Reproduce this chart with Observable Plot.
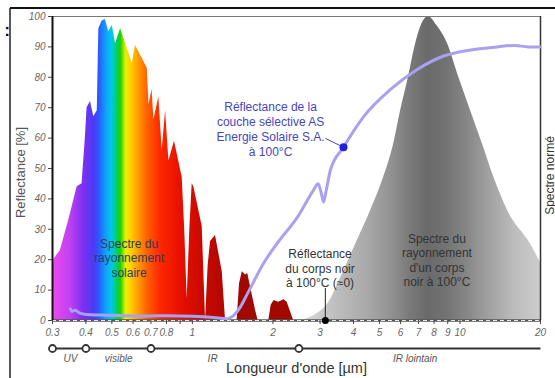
<!DOCTYPE html>
<html><head><meta charset="utf-8">
<script src="https://cdn.jsdelivr.net/npm/d3@7"></script>
<script src="https://cdn.jsdelivr.net/npm/@observablehq/plot@0.6"></script>
<style>
body{margin:0;background:#fff;}
#chart{position:relative;width:555px;height:378px;overflow:hidden;}
#chart g[aria-label="y-axis tick label"] text{font-style:italic;fill:#666;}
</style></head><body><div id="chart"></div>
<script>
// Solar spectrum (normalized, %)
const solarWl  = [0.300,0.303,0.321,0.345,0.371,0.387,0.398,0.404,0.416,0.428,0.441,0.447,0.460,0.473,0.487,0.502,0.516,0.539,0.579,0.596,0.613,0.678,0.688,0.707,0.718,0.749,0.771,0.794,0.817,0.857,0.916,0.936,0.956,0.978,0.998,1.012,1.088,1.12,1.145,1.169,1.22,1.293,1.33,1.47,1.50,1.536,1.58,1.61,1.65,1.72,1.76,1.93,1.97,2.02,2.10,2.20,2.26,2.39];
const solarVal = [0,20,23,33,44,45,60,70,72,67,69,96,98.5,99,95,97,91,96,88,84.5,90.5,83,71,76,66,73.5,56,69,52.5,59,47,30,7,30,45,44,31,0,18,26,28,16,0,0,12,16,15,15.5,11,3.5,0,0,5,6.6,6,6.8,6,0];
// Black body spectrum at 100°C (normalized, %)
const bbWl  = [2.54,3.18,3.58,4.07,4.63,5.18,5.65,6.0,6.42,6.83,7.2,7.63,8.2,8.99,9.9,10.96,12.15,13.4,15.1,18.4,20];
const bbVal = [0,5,14,25,36,47,58,69,80,91,97.5,100,97,91,80,69,58,47,36,25,19];
// Reflectance of the selective coating (%)
const reflWl  = [0.35,0.355,0.365,0.38,0.40,0.45,0.5,0.6,0.7,0.8,1.0,1.2,1.35,1.42,1.5,1.61,1.85,2.1,2.47,2.84,2.95,3.03,3.09,3.15,3.28,3.67,4.36,5.5,6.9,8.7,10.96,13.8,16,18,20];
const reflVal = [3.8,3.0,3.4,2.4,2.0,1.8,1.7,1.5,1.5,1.6,1.4,1.0,0.6,1.5,4,9,19,26,34,43,45,42,39,42,49.5,57,67,76,82.5,87,89,90,90.5,90,90];
// Ticks
const xTickVals   = [0.3,0.4,0.5,0.6,0.7,0.8,0.9,1,2,3,4,5,6,7,8,9,10,20];
const xTickLabels = ["0.3","0.4","0.5","0.6","0.7","0.8","","1","2","3","4","5","6","7","8","9","10","20"];
const yTickVals   = [0,10,20,30,40,50,60,70,80,90,100];
// Spectral regions
const regionBounds = [0.3,0.4,0.7,2.5];
const regionNames  = ["UV","visible","IR","IR lointain"];
const regionNameX  = [0.35,0.53,1.19,6.8];
// Gradient stops
const solarStopWl  = [0.30,0.35,0.39,0.43,0.45,0.475,0.50,0.525,0.54,0.565,0.59,0.63,0.68,0.76,0.9,1.1,1.5];
const solarStopCol = ["#f048f0","#c040f0","#8030f0","#4a3af5","#2a5cff","#10a0ff","#00c8e8","#00d060","#20d000","#e8f000","#ffd000","#ff9a00","#ff6000","#ff2800","#e81000","#c80800","#a00800"];
const bbStopWl  = [2.6,3.5,4.5,5.5,6.5,7.6,8.8,10.5,13,16,20];
const bbStopCol = ["#d8d8d8","#bdbdbd","#a9a9a9","#939393","#7a7a7a","#6a6a6a","#727272","#858585","#a2a2a2","#bcbcbc","#cdcdcd"];

const solar = solarWl.map((w,i)=>({w, v: solarVal[i]}));
const bb = bbWl.map((w,i)=>({w, v: bbVal[i]}));
const refl = reflWl.map((w,i)=>({w, v: reflVal[i]}));

const chart = Plot.plot({
  width: 555, height: 378,
  marginLeft: 52, marginRight: 15, marginTop: 16, marginBottom: 58,
  style: {fontFamily: "'Liberation Sans', Arial, sans-serif", background: "white", overflow: "visible"},
  x: {type: "log", domain: [0.3, 20]},
  y: {domain: [0, 100]},
  marks: [
    Plot.areaY(solar, {x: "w", y: "v", fill: "url(#solarGrad)", curve: "linear"}),
    Plot.areaY(bb, {x: "w", y: "v", fill: "url(#bbGrad)", curve: "monotone-x"}),
    Plot.frame({stroke: "#777", strokeWidth: 1}),
    Plot.ruleX([20], {stroke: "#333", strokeWidth: 1.5}),
    Plot.ruleY([0], {stroke: "#555", strokeWidth: 2.5}),
    Plot.ruleY([0], {stroke: "#e8e8e8", strokeWidth: 1, strokeDasharray: "4,3"}),
    Plot.ruleX([0.3], {stroke: "#111", strokeWidth: 2}),
    Plot.axisX({ticks: xTickVals, tickFormat: () => "", tickSize: 4, label: null, stroke: "#444"}),
    Plot.text(xTickVals, {x: d => d, y: () => 0, text: (d, i) => xTickLabels[i], lineAnchor: "top", dy: 8, fontSize: 10, fontStyle: "italic", fill: "#666"}),
    Plot.axisY({ticks: yTickVals, tickSize: 4, tickPadding: 3, fontSize: 10, label: null, stroke: "#444"}),
    Plot.line(refl, {x: "w", y: "v", stroke: "#a9a1ef", strokeWidth: 3, curve: "monotone-x"}),
    // coating annotation
    Plot.link([0], {x1: [3.14], y1: [59.9], x2: [3.67], y2: [57], stroke: "#4646c0", strokeWidth: 1}),
    Plot.dot([0], {x: [3.67], y: [57], r: 4, fill: "#2020e0"}),
    Plot.text(["Réflectance de la\ncouche sélective AS\nEnergie Solaire S.A.\nà 100°C"], {x: [1.96], y: [63.2], fontSize: 12, lineHeight: 1.25, fill: "#4646c0"}),
    // black body reflectance
    Plot.ruleX([3.14], {y1: 0, y2: 10.5, stroke: "#222", strokeWidth: 1}),
    Plot.dot([0], {x: [3.14], y: [0], r: 3.5, fill: "#000"}),
    Plot.text(["Réflectance\ndu corps noir\nà 100°C (≈0)"], {x: [3.0], y: [17.3], fontSize: 12, lineHeight: 1.2, fill: "#333"}),
    // boxed labels
    Plot.text(["Spectre du\nrayonnement\nsolaire"], {x: [0.58], y: [20.7], fontSize: 12, lineHeight: 1.2, fill: "#2d3a66", ariaLabel: "solar-label"}),
    Plot.text(["Spectre du\nrayonnement\nd'un corps\nnoir à 100°C"], {x: [8.2], y: [19.9], fontSize: 12, lineHeight: 1.2, fill: "#333", ariaLabel: "bb-label"}),
    // spectral region band
    Plot.link([0], {x1: [0.3], x2: [20], y1: [0], y2: [0], dy: 28, stroke: "#333", strokeWidth: 2}),
    Plot.dot(regionBounds, {x: d => d, y: () => 0, dy: 28, r: 3.5, fill: "white", stroke: "#333", strokeWidth: 1.8}),
    Plot.text(regionNames, {x: (d,i) => regionNameX[i], y: () => 0, dy: 38, fontSize: 10, fontStyle: "italic", fill: "#555"}),
    // titles
    Plot.text(["Longueur d'onde [µm]"], {frameAnchor: "bottom", dy: 52, fontSize: 14.5, fill: "#333"}),
    Plot.text(["Reflectance [%]"], {frameAnchor: "left", textAnchor: "middle", rotate: -90, dx: -32, dy: 4, fontSize: 13, fill: "#555"}),
    Plot.text(["Spectre normé"], {frameAnchor: "right", textAnchor: "middle", rotate: -90, dx: 10, dy: 7, fontSize: 12, fill: "#333"}),
    Plot.text([":"], {frameAnchor: "top-left", dx: -48, dy: 8, fontSize: 16, fontWeight: "bold", fill: "#000"})
  ]
});
document.getElementById("chart").append(chart);

// gradients built from the plot's own x scale
const xs = chart.scale("x");
const svg = d3.select(chart);
const defs = svg.insert("defs", ":first-child");
function grad(id, wl, cols, w0, w1) {
  const x0 = xs.apply(w0), x1 = xs.apply(w1);
  const g = defs.append("linearGradient").attr("id", id).attr("gradientUnits", "userSpaceOnUse")
    .attr("x1", x0).attr("x2", x1).attr("y1", 0).attr("y2", 0);
  wl.forEach((w, i) => g.append("stop").attr("offset", (xs.apply(w) - x0) / (x1 - x0)).attr("stop-color", cols[i]));
}
grad("solarGrad", solarStopWl, solarStopCol, 0.3, 2.5);
grad("bbGrad", bbStopWl, bbStopCol, 2.5, 20);

// label boxes
function box(label, fill, stroke, px, py) {
  const g = chart.querySelector(`g[aria-label="${label}"]`);
  if (!g) return;
  const b = g.getBBox();
  const r = document.createElementNS("http://www.w3.org/2000/svg", "rect");
  r.setAttribute("x", b.x - px); r.setAttribute("y", b.y - py);
  r.setAttribute("width", b.width + 2 * px); r.setAttribute("height", b.height + 2 * py);
  r.setAttribute("fill", fill); r.setAttribute("stroke", stroke);
  g.insertBefore(r, g.firstChild);
}
box("solar-label", "rgba(255,255,255,0.6)", "rgba(255,255,255,0.8)", 5, 2);
box("bb-label", "rgba(225,225,225,0.85)", "#f4f4f4", 5, 2);

// outer picture border
svg.append("line").attr("x1", 10).attr("x2", 555).attr("y1", 8).attr("y2", 8).attr("stroke", "#111").attr("stroke-width", 2);
svg.append("line").attr("x1", 10).attr("x2", 10).attr("y1", 8).attr("y2", 378).attr("stroke", "#222").attr("stroke-width", 1.5);
</script></body></html>
